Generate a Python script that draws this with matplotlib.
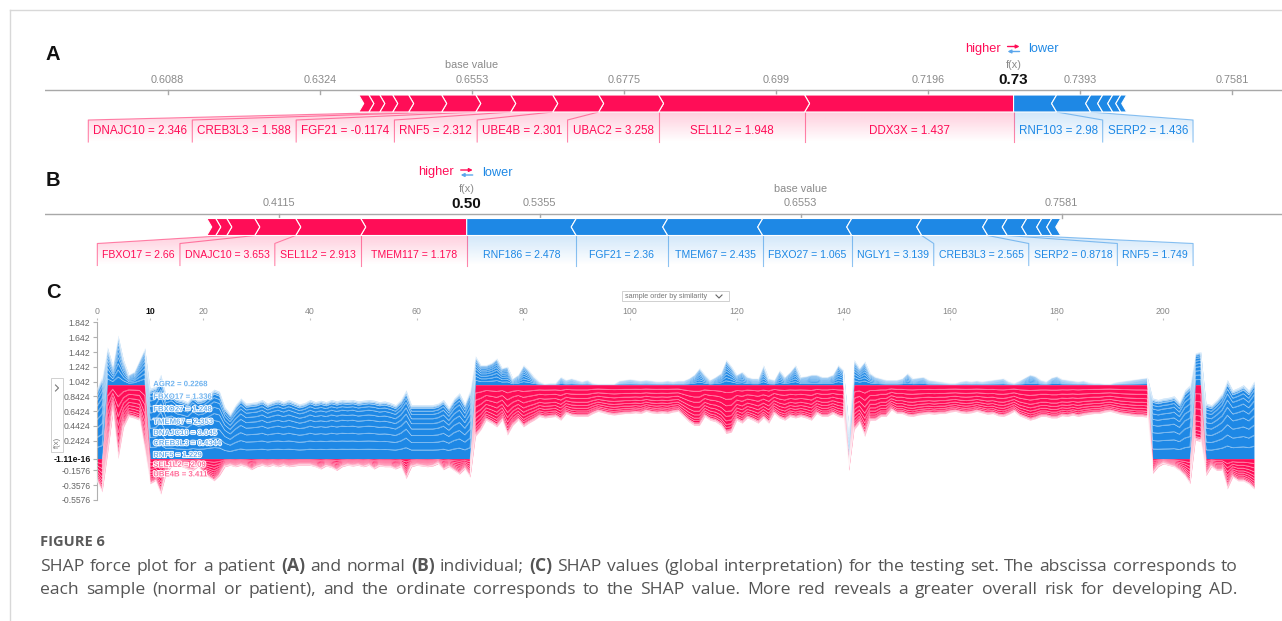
import numpy as np
import matplotlib
matplotlib.use("Agg")
import matplotlib.pyplot as plt
from matplotlib.patches import Polygon, Rectangle
from matplotlib.lines import Line2D
import matplotlib.patheffects as pe
from matplotlib.colors import to_rgb

plt.rcParams["font.family"] = ["Liberation Sans", "DejaVu Sans"]

W, H = 1282, 621
RED = "#ff0d57"
BLUE = "#1e88e5"
GREY = "#8a8a8a"

# ---------------- panel A : patient force plot (log-odds SHAP values, from f(x) outwards)
a_base = 0.6553
a_fx_text = "0.73"
a_ticks = [0.6088, 0.6324, 0.6553, 0.6775, 0.699, 0.7196, 0.7393, 0.7581]
a_pos_shap = [0.1374, 0.0960, 0.0394, 0.0302, 0.0276, 0.0230, 0.0224, 0.0217,
              0.0105, 0.0085, 0.0072, 0.0066]
a_pos_labels = ["DDX3X = 1.437", "SEL1L2 = 1.948", "UBAC2 = 3.258", "UBE4B = 2.301",
                "RNF5 = 2.312", "FGF21 = -0.1174", "CREB3L3 = 1.588", "DNAJC10 = 2.346"]
a_neg_shap = [0.0283, 0.0224, 0.0079, 0.0066, 0.0053, 0.0039]
a_neg_labels = ["RNF103 = 2.98", "SERP2 = 1.436"]

# ---------------- panel B : normal individual
b_base = 0.6553
b_fx_text = "0.50"
b_ticks = [0.4115, 0.5355, 0.6553, 0.7581]
b_pos_shap = [0.2031, 0.1245, 0.0785, 0.0536, 0.0211, 0.0172]
b_pos_labels = ["TMEM117 = 1.178", "SEL1L2 = 2.913", "DNAJC10 = 3.653", "FBXO17 = 2.66"]
b_neg_shap = [0.2098, 0.1753, 0.1820, 0.1705, 0.1341, 0.1264, 0.0374, 0.0374,
              0.0287, 0.0192, 0.0172]
b_neg_labels = ["RNF186 = 2.478", "FGF21 = 2.36", "TMEM67 = 2.435", "FBXO27 = 1.065",
                "NGLY1 = 3.139", "CREB3L3 = 2.565", "SERP2 = 0.8718", "RNF5 = 1.749"]

# ---------------- panel C : stacked force plot over the testing set
c_runs = [(0, 2), (1, 8), (0, 61), (1, 70), (0, 1), (1, 56), (0, 8), (1, 2), (0, 10)]
c_top = [
    0.95, 1.11, 1.51, 1.27, 1.67, 1.34, 1.14, 1.18, 1.34, 1.50,
    0.95, 0.98, 1.14, 0.86, 0.89, 0.82, 0.80, 0.77, 0.86, 0.80,
    0.82, 0.88, 0.94, 0.91, 0.70, 0.61, 0.73, 0.82, 0.75, 0.76,
    0.77, 0.80, 0.75, 0.78, 0.80, 0.77, 0.80, 0.77, 0.74, 0.76,
    0.80, 0.77, 0.79, 0.77, 0.80, 0.78, 0.80, 0.79, 0.80, 0.78,
    0.79, 0.80, 0.79, 0.77, 0.78, 0.76, 0.73, 0.80, 0.93, 0.73,
    0.73, 0.73, 0.73, 0.73, 0.75, 0.80, 0.70, 0.82, 0.89, 0.75,
    0.93, 1.39, 1.27, 1.27, 1.30, 1.36, 1.23, 1.25, 1.09, 1.14,
    1.27, 1.20, 1.11, 1.05, 1.02, 1.03, 1.03, 1.11, 1.07, 1.09,
    1.07, 1.05, 1.07, 1.03, 1.02, 1.02, 1.02, 1.02, 1.06, 1.07,
    1.08, 1.07, 1.06, 1.07, 1.06, 1.05, 1.05, 1.06, 1.05, 1.06,
    1.06, 1.09, 1.14, 1.23, 1.14, 1.07, 1.11, 1.16, 1.34, 1.25,
    1.14, 1.18, 1.11, 1.09, 1.09, 1.27, 1.09, 1.07, 1.20, 1.11,
    1.18, 1.27, 1.11, 1.12, 1.14, 1.14, 1.11, 1.11, 1.14, 1.27,
    1.20, 0.45, 1.34, 1.23, 1.32, 1.16, 1.11, 1.09, 1.07, 1.07,
    1.07, 1.09, 1.16, 1.09, 1.10, 1.11, 1.07, 1.06, 1.05, 1.04,
    1.03, 1.03, 1.05, 1.06, 1.05, 1.06, 1.05, 1.06, 1.07, 1.08,
    1.09, 1.05, 1.03, 1.06, 1.10, 1.14, 1.12, 1.07, 1.05, 1.10,
    1.12, 1.08, 1.07, 1.06, 1.05, 1.06, 1.04, 1.03, 1.03, 1.02,
    1.02, 1.04, 1.05, 1.06, 1.07, 1.08, 1.09, 1.10, 0.82, 0.80,
    0.82, 0.83, 0.85, 0.77, 0.93, 1.00, 1.43, 1.45, 0.75, 0.73,
    0.80, 0.89, 1.07, 0.93, 0.96, 1.00, 0.93, 1.05]
c_bottom = [
    -0.30, -0.45, 0.05, 0.62, 0.00, 0.42, 0.57, 0.55, 0.52, 0.10,
    -0.34, -0.30, -0.48, -0.20, -0.11, -0.09, -0.11, -0.14, -0.16, -0.11,
    -0.20, -0.25, -0.30, -0.23, -0.11, -0.09, -0.11, -0.09, -0.11, -0.15,
    -0.11, -0.09, -0.11, -0.09, -0.11, -0.09, -0.11, -0.10, -0.09, -0.09,
    -0.09, -0.11, -0.14, -0.10, -0.12, -0.16, -0.11, -0.09, -0.10, -0.09,
    -0.11, -0.09, -0.14, -0.10, -0.11, -0.11, -0.14, -0.11, -0.27, -0.11,
    -0.09, -0.10, -0.11, -0.10, -0.07, -0.15, -0.11, -0.16, -0.21, -0.14,
    -0.25, 0.30, 0.39, 0.52, 0.48, 0.43, 0.52, 0.32, 0.45, 0.52,
    0.43, 0.48, 0.52, 0.57, 0.55, 0.56, 0.57, 0.52, 0.61, 0.58,
    0.57, 0.57, 0.57, 0.61, 0.64, 0.62, 0.60, 0.59, 0.60, 0.61,
    0.61, 0.62, 0.61, 0.64, 0.62, 0.61, 0.62, 0.61, 0.63, 0.64,
    0.57, 0.50, 0.45, 0.45, 0.57, 0.52, 0.50, 0.45, 0.34, 0.36,
    0.52, 0.48, 0.55, 0.52, 0.48, 0.55, 0.48, 0.61, 0.55, 0.52,
    0.57, 0.55, 0.57, 0.55, 0.52, 0.61, 0.57, 0.57, 0.61, 0.57,
    0.55, -0.16, 0.39, 0.48, 0.30, 0.52, 0.52, 0.57, 0.57, 0.66,
    0.61, 0.61, 0.58, 0.57, 0.59, 0.60, 0.61, 0.60, 0.61, 0.61,
    0.63, 0.64, 0.62, 0.61, 0.62, 0.64, 0.62, 0.60, 0.61, 0.58,
    0.57, 0.60, 0.64, 0.58, 0.55, 0.52, 0.54, 0.57, 0.57, 0.55,
    0.55, 0.58, 0.57, 0.59, 0.57, 0.59, 0.60, 0.61, 0.61, 0.63,
    0.64, 0.62, 0.60, 0.59, 0.58, 0.57, 0.57, 0.56, -0.20, -0.11,
    -0.07, -0.09, -0.11, -0.16, -0.23, -0.34, 0.25, 0.23, -0.23, -0.11,
    -0.16, -0.16, -0.41, -0.25, -0.30, -0.30, -0.34, -0.41]
# share of each stacked feature band, from the output line outwards
c_shares = [0.16, 0.14, 0.13, 0.12, 0.10, 0.09, 0.08, 0.06, 0.05, 0.03, 0.02, 0.02]
c_yticks = [1.842, 1.642, 1.442, 1.242, 1.042, 0.8424, 0.6424, 0.4424, 0.2424,
            -1.11e-16, -0.1576, -0.3576, -0.5576]
c_ytick_labels = ["1.842", "1.642", "1.442", "1.242", "1.042", "0.8424", "0.6424",
                  "0.4424", "0.2424", "-1.11e-16", "-0.1576", "-0.3576", "-0.5576"]
c_xticks = [0, 10, 20, 40, 60, 80, 100, 120, 140, 160, 180, 200]
c_hover_sample = 10
c_hover_labels = ["AGR2 = 0.2268", "FBXO17 = 1.336", "FBXO27 = 1.248", "TMEM67 = 2.353",
                  "DNAJC10 = 3.045", "CREB3L3 = 0.4344", "RNF5 = 1.229",
                  "SEL1L2 = 2.09", "UBE4B = 3.411"]
c_hover_y = [1.00, 0.83, 0.66, 0.49, 0.34, 0.20, 0.04, -0.09, -0.22]
c_hover_pos = [False] * 7 + [True] * 2

caption_title = "FIGURE 6"
caption_lines = [
    "SHAP force plot for a patient *(A) and normal *(B) individual; *(C) SHAP values "
    "(global interpretation) for the testing set. The abscissa corresponds to",
    "each sample (normal or patient), and the ordinate corresponds to the SHAP value. "
    "More red reveals a greater overall risk for developing AD.",
]


def logit(p):
    return np.log(p / (1 - p))


fig = plt.figure(figsize=(W / 100, H / 100), dpi=100)
rend = fig.canvas.get_renderer()


def shade(ax, pts, color, y0, y1):
    poly = Polygon(pts, closed=True, fc="none", ec="none")
    ax.add_patch(poly)
    grad = np.zeros((60, 1, 4))
    grad[..., :3] = to_rgb(color)
    grad[:, 0, 3] = np.linspace(0.2, 0.0, 60)
    xs = [p[0] for p in pts]
    im = ax.imshow(grad, extent=(min(xs), max(xs), y1, y0), origin="upper",
                   aspect="auto", interpolation="bilinear", zorder=1)
    im.set_clip_path(poly)


def force_panel(top_px, bot_px, anchor, ppu, y_axis, base_p, fx_text, ticks,
                pos_shap, pos_labels, neg_shap, neg_labels, lab_size):
    left_px, right_px = 45, W
    ax = fig.add_axes([left_px / W, 1 - bot_px / H, (right_px - left_px) / W,
                       (bot_px - top_px) / H])
    ax.axis("off")
    x0 = logit(anchor[0]) - (anchor[1] - left_px) / ppu
    xlim = (x0, x0 + (right_px - left_px) / ppu)
    base = logit(base_p)
    fx = base + sum(pos_shap) - sum(neg_shap)
    bar_top, bar_bot = y_axis + 5, y_axis + 22
    mid = (bar_top + bar_bot) / 2
    lab_top, lab_bot = bar_bot + 8, bar_bot + 30
    lab_mid = (lab_top + lab_bot) / 2
    tip = 5 / ppu
    pad = 5 / ppu

    ax.axhline(y_axis, color="#a8a8a8", lw=1)
    for p in ticks:
        ax.plot([logit(p)] * 2, [y_axis, y_axis + 4], color="#a8a8a8", lw=1)
        ax.text(logit(p), y_axis - 10, str(p), ha="center", va="center",
                fontsize=7.8, color=GREY)
    ax.text(base, y_axis - 25, "base value", ha="center", va="center", fontsize=7.8, color=GREY)
    ax.text(fx, y_axis - 25, "f(x)", ha="center", va="center", fontsize=7.8, color=GREY)
    ax.text(fx, y_axis - 10, fx_text, ha="center", va="center", fontsize=11,
            weight="bold", color="#111111")
    ax.text(fx - 13 / ppu, y_axis - 41, "higher", ha="right", va="center", fontsize=9.2, color=RED)
    ax.text(fx + 15 / ppu, y_axis - 41, "lower", ha="left", va="center", fontsize=9.2, color=BLUE)
    # the two little opposite arrows between "higher" and "lower"
    ax.annotate("", xy=(fx + 6 / ppu, y_axis - 43.5), xytext=(fx - 6 / ppu, y_axis - 43.5),
                arrowprops=dict(arrowstyle="-|>", color=RED, lw=1.0, mutation_scale=5,
                                shrinkA=0, shrinkB=0))
    ax.annotate("", xy=(fx - 6 / ppu, y_axis - 38.5), xytext=(fx + 6 / ppu, y_axis - 38.5),
                arrowprops=dict(arrowstyle="-|>", color="#5ba6ec", lw=1.0, mutation_scale=5,
                                shrinkA=0, shrinkB=0))

    # positive (red) features, drawn from f(x) to the left
    cum, bound = fx, fx
    for k, v in enumerate(pos_shap):
        s1, s0 = cum, cum - v
        cum = s0
        tr = 0 if k == 0 else tip
        pts = [(s0, bar_top), (s1, bar_top), (s1 + tr, mid), (s1, bar_bot),
               (s0, bar_bot), (s0 + tip, mid)]
        ax.add_patch(Polygon(pts, closed=True, fc=RED, ec="white", lw=0.8, zorder=3))
        if k < len(pos_labels):
            t = ax.text((s0 + s1) / 2, lab_mid, pos_labels[k], ha="center", va="center",
                        fontsize=lab_size, color=RED, zorder=4)
            w = t.get_window_extent(rend).width / ppu + 2 * pad
            bw = max(w, s1 - s0)
            right = min((s0 + s1) / 2 + bw / 2, bound)
            left = right - bw
            t.set_x((left + right) / 2)
            shade(ax, [(s0, bar_bot), (s1, bar_bot), (right, lab_top), (right, lab_bot),
                       (left, lab_bot), (left, lab_top)], RED, bar_bot, lab_bot)
            ax.plot([s0, left, left], [bar_bot, lab_top, lab_bot], color=RED, alpha=0.5,
                    lw=0.8, zorder=2)
            bound = left

    # negative (blue) features, drawn from f(x) to the right
    cum, bound = fx, fx
    for k, v in enumerate(neg_shap):
        s0, s1 = cum, cum + v
        cum = s1
        tl = 0 if k == 0 else tip
        pts = [(s0, bar_top), (s1, bar_top), (s1 - tip, mid), (s1, bar_bot),
               (s0, bar_bot), (s0 - tl, mid)]
        ax.add_patch(Polygon(pts, closed=True, fc=BLUE, ec="white", lw=0.8, zorder=3))
        if k < len(neg_labels):
            t = ax.text((s0 + s1) / 2, lab_mid, neg_labels[k], ha="center", va="center",
                        fontsize=lab_size, color=BLUE, zorder=4)
            w = t.get_window_extent(rend).width / ppu + 2 * pad
            bw = max(w, s1 - s0)
            left = max((s0 + s1) / 2 - bw / 2, bound)
            right = left + bw
            t.set_x((left + right) / 2)
            shade(ax, [(s0, bar_bot), (s1, bar_bot), (right, lab_top), (right, lab_bot),
                       (left, lab_bot), (left, lab_top)], BLUE, bar_bot, lab_bot)
            ax.plot([s1, right, right], [bar_bot, lab_top, lab_bot], color=BLUE, alpha=0.5,
                    lw=0.8, zorder=2)
            bound = right
    ax.plot([fx, fx], [bar_bot, lab_bot], color=RED, alpha=0.5, lw=0.8, zorder=2)

    ax.set_xlim(xlim)
    ax.set_ylim(bot_px, top_px)
    return ax


force_panel(30, 150, (0.6088, 167.5), 1521, 90, a_base, a_fx_text, a_ticks,
            a_pos_shap, a_pos_labels, a_neg_shap, a_neg_labels, 8.4)
force_panel(158, 272, (0.5355, 539.7), 522, 213.5, b_base, b_fx_text, b_ticks,
            b_pos_shap, b_pos_labels, b_neg_shap, b_neg_labels, 7.6)

# ---------------- panel C
cx0, cx1, cy0, cy1 = 96.7, 1262, 320.4, 501.5
axc = fig.add_axes([cx0 / W, 1 - cy1 / H, (cx1 - cx0) / W, (cy1 - cy0) / H])
out = np.concatenate([np.full(n, v, float) for v, n in c_runs])
top = np.array(c_top)
bottom = np.array(c_bottom)
xs = np.arange(len(out))
cum = np.concatenate([[0], np.cumsum(c_shares)])
cum = cum / cum[-1]
blue_cols = [BLUE] * (len(c_shares) - 3) + ["#4fa2eb", "#86c0f1", "#bcdcf8"]
red_cols = [RED] * (len(c_shares) - 3) + ["#ff4c84", "#ff88ad", "#ffbcd0"]
for k in range(len(c_shares)):
    axc.fill_between(xs, out + cum[k] * (top - out), out + cum[k + 1] * (top - out),
                     color=blue_cols[k], lw=0, zorder=2)
    axc.fill_between(xs, out - cum[k] * (out - bottom), out - cum[k + 1] * (out - bottom),
                     color=red_cols[k], lw=0, zorder=2)
for k in range(1, len(c_shares)):
    axc.plot(xs, out + cum[k] * (top - out), color="white", alpha=0.45, lw=0.6, zorder=3)
    axc.plot(xs, out - cum[k] * (out - bottom), color="white", alpha=0.45, lw=0.6, zorder=3)

for lab, yv, is_pos in zip(c_hover_labels, c_hover_y, c_hover_pos):
    axc.text(c_hover_sample + 0.6, yv, lab, ha="left", va="center", fontsize=5.6,
             weight="bold", color="#ff6f9b" if is_pos else "#6fb3ef", zorder=5,
             path_effects=[pe.withStroke(linewidth=1.3, foreground="white")])

axc.set_xlim(0, (cx1 - cx0) / 5.333)
axc.set_ylim(-0.58, 1.87)
for s in ["top", "right", "bottom"]:
    axc.spines[s].set_visible(False)
axc.spines["left"].set_color("#b0b0b0")
axc.spines["left"].set_bounds(c_yticks[-1], c_yticks[0])
axc.set_yticks(c_yticks)
axc.set_yticklabels(c_ytick_labels)
axc.tick_params(axis="y", length=3, width=0.8, color="#b0b0b0", labelsize=6.2,
                labelcolor="#666666", pad=1.5)
for lab in axc.get_yticklabels():
    if lab.get_text() == "-1.11e-16":
        lab.set_fontweight("bold")
        lab.set_color("#111111")
axc.xaxis.tick_top()
axc.set_xticks(c_xticks)
axc.set_xticklabels([str(v) for v in c_xticks])
axc.tick_params(axis="x", length=1.5, width=0.8, color="#c0c0c0", labelsize=6.3,
                labelcolor="#888888", pad=1.5)
for lab in axc.get_xticklabels():
    if lab.get_text() == str(c_hover_sample):
        lab.set_fontweight("bold")
        lab.set_color("#111111")


def fx_(px):
    return px / W


def fy_(py):
    return 1 - py / H


# dropdowns of the interactive plot
fig.add_artist(Rectangle((fx_(622), fy_(301.5)), fx_(729) - fx_(622), fy_(291) - fy_(301.5),
                         transform=fig.transFigure, fc="white", ec="#d0d0d0", lw=0.7))
fig.text(fx_(625), fy_(296.3), "sample order by similarity", fontsize=5.2, color="#777777",
         va="center", ha="left")
fig.add_artist(Line2D([fx_(716), fx_(719), fx_(722)], [fy_(295), fy_(298), fy_(295)],
                      transform=fig.transFigure, color="#666666", lw=0.8))
fig.add_artist(Rectangle((fx_(51), fy_(452)), fx_(63) - fx_(51), fy_(378) - fy_(452),
                         transform=fig.transFigure, fc="white", ec="#d0d0d0", lw=0.7))
fig.add_artist(Line2D([fx_(55.5), fx_(58.5), fx_(55.5)], [fy_(385), fy_(388), fy_(391)],
                      transform=fig.transFigure, color="#777777", lw=0.8))
fig.text(fx_(57.3), fy_(442), "f(x)", fontsize=5.5, color="#777777", rotation=90,
         va="center", ha="center")

# panel letters
for letter, ypx in [("A", 55), ("B", 180), ("C", 292)]:
    fig.text(fx_(46), fy_(ypx), letter, fontsize=14.5, weight="bold", va="center",
             ha="left", color="#111111")

# page frame
fig.add_artist(Line2D([fx_(10), 1], [fy_(10), fy_(10)], transform=fig.transFigure,
                      color="#d8d8d8", lw=1))
fig.add_artist(Line2D([fx_(10), fx_(10)], [0, fy_(10)], transform=fig.transFigure,
                      color="#d8d8d8", lw=1))

# caption
cap_font = "Open Sans"
cap_col = "#555555"
fig.text(fx_(40), fy_(542), caption_title, fontsize=10.5, weight="bold", color="#5a5a5a",
         family=cap_font, va="center", ha="left")


def word_width(word, size, bold):
    t = fig.text(0, 0, word, fontsize=size, weight="bold" if bold else "normal",
                 family=cap_font)
    w = t.get_window_extent(rend).width
    t.remove()
    return w


x_start, x_end = 40, 1237
target = x_end - x_start
words0 = [(w.lstrip("*"), w.startswith("*")) for w in caption_lines[0].split(" ")]
size = 10.0
space = word_width("a a", size, False) - word_width("aa", size, False)
natural = sum(word_width(w, size, b) for w, b in words0) + space * (len(words0) - 1)
size = size * target / natural * 0.985

for line, ypx in zip(caption_lines, [571, 594]):
    words = [(w.lstrip("*"), w.startswith("*")) for w in line.split(" ")]
    widths = [word_width(w, size, b) for w, b in words]
    gap = (target - sum(widths)) / (len(words) - 1)
    x = x_start
    for (w, b), wd in zip(words, widths):
        fig.text(fx_(x), fy_(ypx), w, fontsize=size, weight="bold" if b else "normal",
                 family=cap_font, color=cap_col, va="baseline", ha="left")
        x += wd + gap

fig.savefig("out.png", dpi=100)
